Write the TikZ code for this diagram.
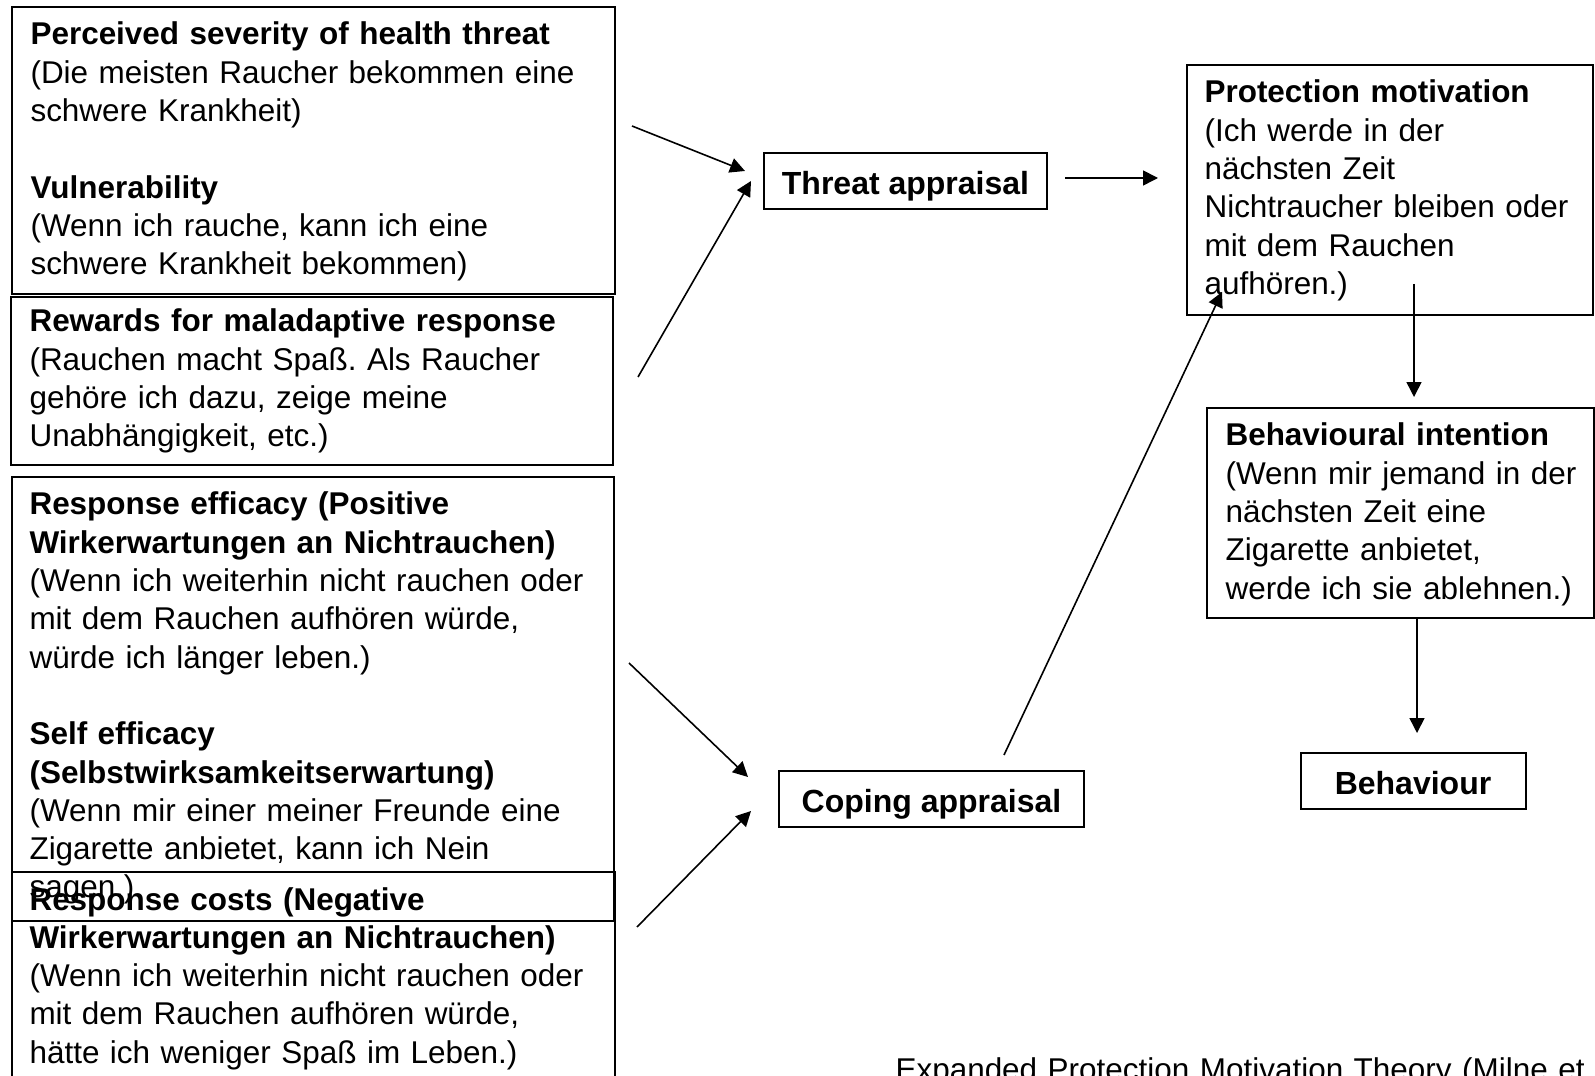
\documentclass[tikz,border=0pt]{standalone}
\usepackage{fontspec}
\setmainfont{Liberation Sans}
\usetikzlibrary{arrows.meta}
\newcommand{\pxl}{0.375pt}
\frenchspacing

\begin{document}
\begin{tikzpicture}[x=0.375pt, y=-0.375pt,
    frame/.style={draw, line width=0.75pt, anchor=north west, inner sep=0pt},
    txt/.style={anchor=base west, inner sep=0pt, align=left, text width=250pt,
      font=\fontsize{11.8}{14.36}\selectfont},
    small/.style={draw, line width=0.75pt, inner sep=0pt, minimum height=56*\pxl,
      text height=10pt, text depth=0pt, font=\fontsize{12}{14.36}\selectfont\bfseries},
    arr/.style={line width=0.6pt, -{Triangle[length=5.6pt, width=5.6pt]}}]
  \useasboundingbox (0,0) rectangle (1595,1076);

  % Linke Kaesten
  \node[frame, minimum width=603*\pxl, minimum height=287*\pxl] (sevbox) at (11,6) {};
  \node[frame, minimum width=602*\pxl, minimum height=168*\pxl] (rewbox) at (10,296) {};
  \node[frame, minimum width=602*\pxl, minimum height=444*\pxl] (effbox) at (10.5,476) {};
  \node[frame, minimum width=603.5*\pxl, minimum height=229*\pxl] (costbox) at (10.5,871) {};

  \node[txt] (sev) at (30,45) {\textbf{Perceived severity of health threat}\\
    (Die meisten Raucher bekommen eine\\
    schwere Krankheit)\\
    ~\\
    \textbf{Vulnerability}\\
    (Wenn ich rauche, kann ich eine\\
    schwere Krankheit bekommen)};
  \node[txt] (rew) at (29,332) {\textbf{Rewards for maladaptive response}\\
    (Rauchen macht Spaß. Als Raucher\\
    gehöre ich dazu, zeige meine\\
    Unabhängigkeit, etc.)};
  \node[txt] (eff) at (29,515) {\textbf{Response efficacy (Positive}\\
    \textbf{Wirkerwartungen an Nichtrauchen)}\\
    (Wenn ich weiterhin nicht rauchen oder\\
    mit dem Rauchen aufhören würde,\\
    würde ich länger leben.)\\
    ~\\
    \textbf{Self efficacy}\\
    \textbf{(Selbstwirksamkeitserwartung)}\\
    (Wenn mir einer meiner Freunde eine\\
    Zigarette anbietet, kann ich Nein\\
    sagen.)};
  \node[txt] (cost) at (29,910) {\textbf{Response costs (Negative}\\
    \textbf{Wirkerwartungen an Nichtrauchen)}\\
    (Wenn ich weiterhin nicht rauchen oder\\
    mit dem Rauchen aufhören würde,\\
    hätte ich weniger Spaß im Leben.)};

  % Mitte
  \node[small, minimum width=283*\pxl] (thr) at (905.5,181) {Threat appraisal};
  \node[small, minimum width=305*\pxl] (cop) at (931.5,799) {Coping appraisal};

  % Rechte Kaesten
  \node[frame, minimum width=406*\pxl, minimum height=250*\pxl] (pmbox) at (1186,64) {};
  \node[frame, minimum width=387*\pxl, minimum height=210*\pxl] (bibox) at (1206,407) {};
  \node[txt] (pm) at (1204,103) {\textbf{Protection motivation}\\
    (Ich werde in der\\
    nächsten Zeit\\
    Nichtraucher bleiben oder\\
    mit dem Rauchen\\
    aufhören.)};
  \node[txt] (bi) at (1225,446) {\textbf{Behavioural intention}\\
    (Wenn mir jemand in der\\
    nächsten Zeit eine\\
    Zigarette anbietet,\\
    werde ich sie ablehnen.)};
  \node[small, minimum width=225*\pxl] (beh) at (1413,781) {Behaviour};

  \node[txt, text width=300pt] (caption) at (895,1080)
    {Expanded Protection Motivation Theory (Milne et al.};

  % Pfeile
  \coordinate (sevout) at (632,126);
  \coordinate (thrin1) at (745,171);
  \coordinate (rewout) at (638,377);
  \coordinate (thrin2) at (751,181);
  \coordinate (throut) at (1065,178);
  \coordinate (pmin1) at (1158,178);
  \coordinate (copout) at (1004,755);
  \coordinate (pmin2) at (1222,292);
  \coordinate (pmout) at (1414,284);
  \coordinate (biin) at (1414,397);
  \coordinate (biout) at (1417,617);
  \coordinate (behin) at (1417,733);
  \coordinate (effout) at (629,663);
  \coordinate (copin1) at (748,777);
  \coordinate (costout) at (637,927);
  \coordinate (copin2) at (751,811);

  \draw[arr] (sevout) -- (thrin1);
  \draw[arr] (rewout) -- (thrin2);
  \draw[arr] (throut) -- (pmin1);
  \draw[arr] (copout) -- (pmin2);
  \draw[arr] (pmout) -- (biin);
  \draw[arr] (biout) -- (behin);
  \draw[arr] (effout) -- (copin1);
  \draw[arr] (costout) -- (copin2);
\end{tikzpicture}
\end{document}
